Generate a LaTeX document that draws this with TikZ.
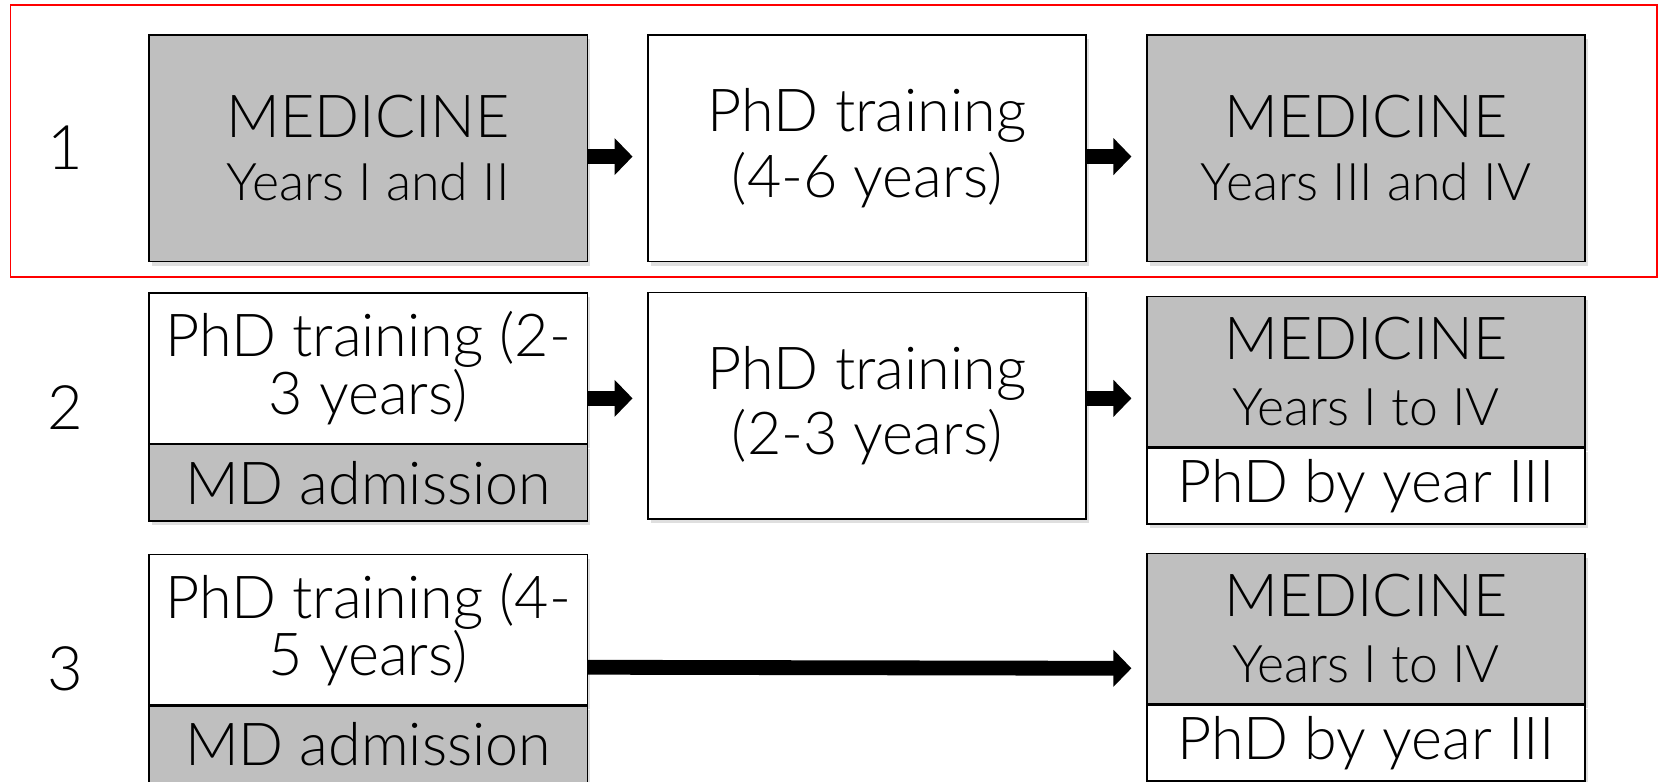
\documentclass[tikz,border=0pt]{standalone}
\usepackage{fontspec}
\setmainfont{Lato Light}
\usetikzlibrary{positioning,arrows.meta,shadows}
\definecolor{medgray}{RGB}{191,191,191}

\begin{document}
\begin{tikzpicture}[x=1pt, y=-1pt,
  every node/.style={font=\fontsize{56}{62}\selectfont},
  stagebox/.style={draw, line width=1.3pt, minimum width=414pt, inner sep=0pt, align=center,
    drop shadow={shadow xshift=3pt, shadow yshift=-4pt, opacity=0.25}},
  med/.style={stagebox, fill=medgray},
  phd/.style={stagebox, fill=white},
  tall/.style={minimum height=214pt},
  top/.style={minimum height=142pt, font=\fontsize{56}{47}\selectfont},
  low/.style={minimum height=72pt},
  fatarrow/.style={line width=14pt, -{Triangle[length=17pt, width=34pt]}},
  rownum/.style={font=\fontsize{58}{62}\selectfont}
]
  \useasboundingbox (0,0) rectangle (1568,739);

  % route 1
  \draw[red, line width=1.5pt] (10,5) rectangle (1566,262);
  \node[rownum] (n1) at (62,140) {1};
  \node[med, tall] (medA) at (348,140) {MEDICINE\\[-3pt]{\fontsize{49}{62}\selectfont Years I and II}};
  \node[phd, tall] (phdA) at (819.5,140) {PhD training\\(4-6 years)};
  \node[med, tall] (medB) at (1291,140) {MEDICINE\\[-3pt]{\fontsize{49}{62}\selectfont Years III and IV}};

  % route 2
  \node[rownum] (n2) at (62,385) {2};
  \node[phd, top] (phdB) at (348,348) {PhD training (2-\\3 years)};
  \node[med, low, below=0pt of phdB] (admA) {MD admission};
  \node[phd, tall] (phdC) at (819.5,383.5) {PhD training\\(2-3 years)};
  \node[med, top, font=\fontsize{56}{62}\selectfont] (medC) at (1291,351) {MEDICINE\\{\fontsize{49}{62}\selectfont Years I to IV}};
  \node[phd, low, below=0pt of medC] (byA) {PhD by year III};

  % route 3
  \node[rownum] (n3) at (62,632) {3};
  \node[phd, top] (phdD) at (348,595) {PhD training (4-\\5 years)};
  \node[med, low, below=0pt of phdD] (admB) {MD admission};
  \node[med, top, font=\fontsize{56}{62}\selectfont] (medD) at (1291,594) {MEDICINE\\{\fontsize{49}{62}\selectfont Years I to IV}};
  \node[phd, low, below=0pt of medD] (byB) {PhD by year III};

  % arrows
  \draw[fatarrow] ([yshift=-8pt]medA.east) -- ([shift={(-14pt,-8pt)}]phdA.west);
  \draw[fatarrow] ([yshift=-8pt]phdA.east) -- ([shift={(-14pt,-8pt)}]medB.west);
  \draw[fatarrow] ([yshift=7pt]phdC.west -| phdB.east) -- ([shift={(-14pt,7pt)}]phdC.west);
  \draw[fatarrow] ([yshift=7pt]phdC.east) -- ([shift={(-14pt,7pt)}]phdC.east -| medC.west);
  \draw[fatarrow] ([yshift=36pt]phdD.south east) -- ([shift={(-14pt,34pt)}]medD.south west);
\end{tikzpicture}
\end{document}
